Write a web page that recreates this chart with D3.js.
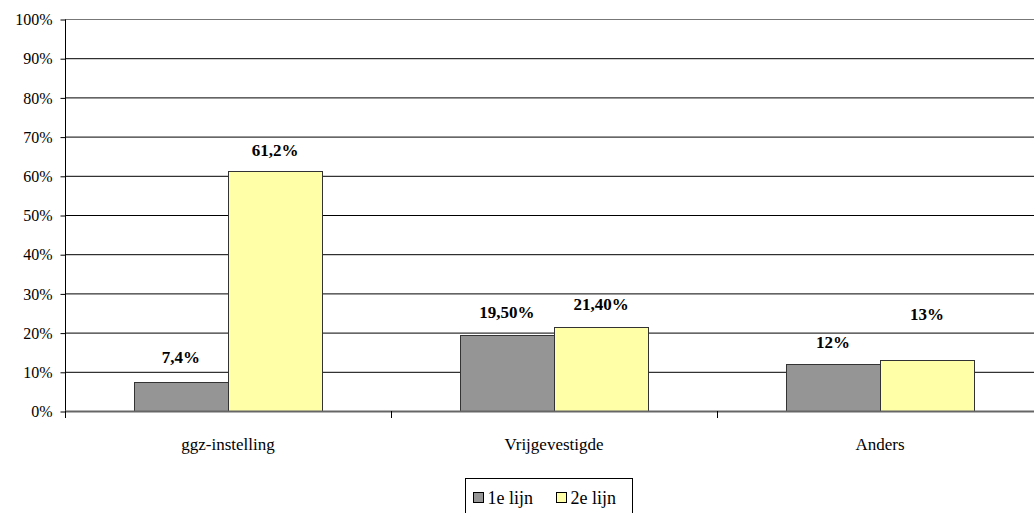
<!DOCTYPE html>
<html>
<head>
<meta charset="utf-8">
<script src="https://cdn.jsdelivr.net/npm/d3@7"></script>
<style>
  body { margin: 0; background: #fff; }
  svg { display: block; }
</style>
</head>
<body>
<div id="canvas"><svg></svg></div>
<script>
// chart data
var categories = ["ggz-instelling", "Vrijgevestigde", "Anders"];
var seriesNames = ["1e lijn", "2e lijn"];
var eersteLijn = [7.4, 19.5, 12];
var tweedeLijn = [61.2, 21.4, 13];
var labels1 = ["7,4%", "19,50%", "12%"];
var labels2 = ["61,2%", "21,40%", "13%"];
var yTicks = [0, 10, 20, 30, 40, 50, 60, 70, 80, 90, 100];

// extra lift (px) of a label above its bar, as in the original
var lift1 = [19, 17, 16];
var lift2 = [15, 17, 40];

var colors = ["#959595", "#ffffa8"];
var fontName = "Liberation Serif";

var width = 1034, height = 513;
var svg = d3.select("#canvas svg")
  .attr("width", width).attr("height", height)
  .attr("font-family", fontName);

var plotLeft = 65, plotTop = 19, plotBottom = 411;

var x = d3.scaleBand().domain(categories).range([plotLeft, plotLeft + 326 * 3]);
var xs = d3.scaleBand().domain(seriesNames).range([0, x.bandwidth()]).paddingInner(0).paddingOuter(0.734);
var y = d3.scaleLinear().domain([0, 100]).range([plotBottom, plotTop]);

// gridlines
svg.append("g")
  .selectAll("line")
  .data(yTicks.filter(function (d) { return d > 0; }))
  .enter().append("line")
  .attr("x1", plotLeft).attr("x2", width)
  .attr("y1", function (d) { return y(d) + 0.5; })
  .attr("y2", function (d) { return y(d) + 0.5; })
  .attr("stroke", function (d) { return d === 100 ? "#777" : "#000"; })
  .attr("stroke-width", 1);

// y axis
var yAxis = svg.append("g")
  .attr("transform", "translate(" + (plotLeft + 0.5) + ",0.5)")
  .call(d3.axisLeft(y).tickValues(yTicks).tickSize(5).tickPadding(8)
    .tickFormat(function (d) { return d + "%"; }));
yAxis.attr("font-family", fontName).attr("font-size", 16);
yAxis.select(".domain").attr("stroke", "#000").attr("d", "M0," + plotTop + "V" + (plotBottom + 1));
yAxis.selectAll(".tick line").attr("stroke", "#000");
yAxis.selectAll("text").attr("fill", "#000");

var data = categories.map(function (c, i) {
  return { cat: c, values: [eersteLijn[i], tweedeLijn[i]], labels: [labels1[i], labels2[i]], lifts: [lift1[i], lift2[i]] };
});

var groups = svg.append("g").selectAll("g")
  .data(data)
  .enter().append("g")
  .attr("transform", function (d) { return "translate(" + x(d.cat) + ",0)"; });

groups.selectAll("rect")
  .data(function (d) { return d.values.map(function (v, j) { return { s: seriesNames[j], v: v, j: j }; }); })
  .enter().append("rect")
  .attr("x", function (d) { return Math.round(xs(d.s)) + 0.5; })
  .attr("y", function (d) { return Math.round(y(d.v)) + 0.5; })
  .attr("width", Math.round(xs.bandwidth()))
  .attr("height", function (d) { return Math.round(y(0)) - Math.round(y(d.v)); })
  .attr("fill", function (d) { return colors[d.j]; })
  .attr("stroke", "#333")
  .attr("stroke-width", 1);

groups.selectAll("text.val")
  .data(function (d) { return d.values.map(function (v, j) { return { s: seriesNames[j], v: v, t: d.labels[j], l: d.lifts[j] }; }); })
  .enter().append("text")
  .attr("class", "val")
  .attr("x", function (d) { return xs(d.s) + xs.bandwidth() / 2; })
  .attr("y", function (d) { return y(d.v) - d.l; })
  .attr("text-anchor", "middle")
  .attr("font-family", fontName)
  .attr("font-weight", "bold")
  .attr("font-size", 17)
  .text(function (d) { return d.t; });

// baseline
svg.append("line")
  .attr("x1", plotLeft).attr("x2", width)
  .attr("y1", y(0) + 0.5).attr("y2", y(0) + 0.5)
  .attr("stroke", "#666").attr("stroke-width", 2);

// x axis ticks + labels
var xAxis = svg.append("g")
  .attr("transform", "translate(0," + (y(0) + 1) + ")")
  .call(d3.axisBottom(x).tickSize(0).tickPadding(26));
xAxis.attr("font-family", fontName).attr("font-size", 17);
xAxis.select(".domain").remove();
xAxis.selectAll("text").attr("fill", "#000");

svg.append("g").selectAll("line")
  .data(categories.slice(1).concat(["start"]))
  .enter().append("line")
  .attr("x1", function (d) { return d === "start" ? plotLeft + 0.5 : Math.round(x(d)) + 0.5; })
  .attr("x2", function (d) { return d === "start" ? plotLeft + 0.5 : Math.round(x(d)) + 0.5; })
  .attr("y1", y(0)).attr("y2", y(0) + 7)
  .attr("stroke", "#000");

// legend
var legend = svg.append("g").attr("transform", "translate(465.5,478.5)");
legend.append("rect")
  .attr("width", 167).attr("height", 40)
  .attr("fill", "#fff").attr("stroke", "#000");
var items = legend.selectAll("g.item")
  .data(seriesNames)
  .enter().append("g")
  .attr("class", "item")
  .attr("transform", function (d, i) { return "translate(" + (8 + i * 83) + ",0)"; });
items.append("rect")
  .attr("x", 0).attr("y", 14)
  .attr("width", 10).attr("height", 10)
  .attr("fill", function (d, i) { return colors[i]; })
  .attr("stroke", "#000");
items.append("text")
  .attr("x", 14).attr("y", 25)
  .attr("font-family", fontName)
  .attr("font-size", 18)
  .text(function (d) { return d; });
</script>
</body>
</html>
